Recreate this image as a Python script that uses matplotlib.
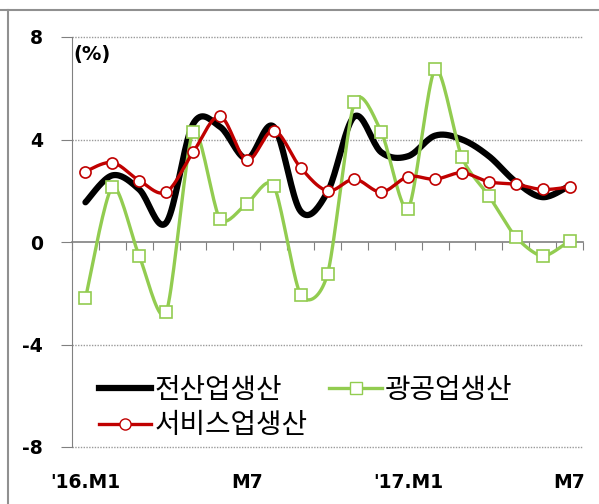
import numpy as np
import matplotlib
matplotlib.use("Agg")
import matplotlib.pyplot as plt
from matplotlib.lines import Line2D

plt.rcParams['font.family'] = ['DejaVu Sans', 'Noto Sans CJK KR']

# monthly growth rates, '16.M1 ~ '17.M7 (%)
months = ["'16.M1", "M2", "M3", "M4", "M5", "M6", "M7", "M8", "M9", "M10",
          "M11", "M12", "'17.M1", "M2", "M3", "M4", "M5", "M6", "M7"]
all_industry = [1.55, 2.6, 2.05, 0.75, 4.6, 4.5, 3.25, 4.5, 1.2, 1.95,
                4.9, 3.5, 3.35, 4.15, 4.0, 3.35, 2.35, 1.75, 2.2]
mining = [-2.2, 2.15, -0.55, -2.75, 4.3, 0.9, 1.5, 2.2, -2.05, -1.25,
          5.45, 4.3, 1.3, 6.75, 3.3, 1.8, 0.2, -0.55, 0.05]
services = [2.75, 3.1, 2.4, 1.95, 3.5, 4.9, 3.2, 4.35, 2.9, 2.0,
            2.45, 1.95, 2.55, 2.45, 2.7, 2.35, 2.25, 2.05, 2.15]
shown_labels = {0: "'16.M1", 6: "M7", 12: "'17.M1", 18: "M7"}
names = ["전산업생산", "광공업생산", "서비스업생산"]


# smoothed line through the points (Bezier segments, like spreadsheet smooth lines)
def smooth(y, k=1 / 6, n=20):
    y = np.asarray(y, dtype=float)
    x = np.arange(len(y), dtype=float)
    px = np.concatenate([[x[0]], x, [x[-1]]])
    py = np.concatenate([[y[0]], y, [y[-1]]])
    xs, ys = [], []
    t = np.linspace(0, 1, n, endpoint=False)
    for i in range(1, len(px) - 2):
        for p, out in ((px, xs), (py, ys)):
            p0, p1, p2, p3 = p[i - 1], p[i], p[i + 1], p[i + 2]
            c1 = p1 + (p2 - p0) * k
            c2 = p2 - (p3 - p1) * k
            out.append((1 - t) ** 3 * p1 + 3 * (1 - t) ** 2 * t * c1
                       + 3 * (1 - t) * t ** 2 * c2 + t ** 3 * p2)
    xs.append([x[-1]])
    ys.append([y[-1]])
    return np.concatenate(xs), np.concatenate(ys)


fig = plt.figure(figsize=(5.99, 5.04), dpi=100)
ax = fig.add_axes([72 / 599, 1 - 447 / 504, (583 - 72) / 599, (447 - 37) / 504])

x = np.arange(len(months))
black = "#000000"
green = "#92CC50"
red = "#C00000"

xs, ys = smooth(all_industry)
ax.plot(xs, ys, color=black, lw=4.5, solid_capstyle='round', zorder=3)
xs, ys = smooth(mining, k=0.13)
ax.plot(xs, ys, color=green, lw=2.4, zorder=4)
ax.plot(x, mining, ls='none', marker='s', ms=9, mfc='white', mec=green, mew=1.2, zorder=5)
xs, ys = smooth(services)
ax.plot(xs, ys, color=red, lw=2.4, zorder=6)
ax.plot(x, services, ls='none', marker='o', ms=8, mfc='white', mec=red, mew=1.2, zorder=7)

ax.set_xlim(-0.5, len(months) - 0.5)
ax.set_ylim(-8, 8)

# horizontal dotted grid, solid zero line
for v in [8, 4, -4, -8]:
    ax.axhline(v, color='#9a9a9a', lw=1.0, ls=(0, (1, 1)), zorder=1, clip_on=False)
for s in ['top', 'right']:
    ax.spines[s].set_visible(False)
ax.spines['left'].set_color('#808080')
ax.spines['bottom'].set_position(('data', 0))
ax.spines['bottom'].set_color('#808080')
ax.spines['bottom'].set_linewidth(1.2)

ax.set_yticks([-8, -4, 0, 4, 8])
ax.set_yticklabels(['-8', '-4', '0', '4', '8'], fontsize=13.5, fontweight='bold')
ax.tick_params(axis='y', length=8, color='#808080', pad=13)
ax.set_xticks(np.arange(-0.5, len(months)))
ax.set_xticklabels([])
ax.tick_params(axis='x', length=6, color='#808080', direction='out')

for i, lab in shown_labels.items():
    ax.text(i, -9.0, lab, ha='center', va='top', fontsize=13.5, fontweight='bold')

ax.text(-0.45, 7.3, "(%)", ha='left', va='center', fontsize=14, fontweight='bold')

handles = [
    Line2D([], [], color=black, lw=4.5),
    Line2D([], [], color=red, lw=2.4, marker='o', ms=8, mfc='white', mec=red),
    Line2D([], [], color=green, lw=2.4, marker='s', ms=9, mfc='white', mec=green),
]
leg = ax.legend(handles, [names[0], names[2], names[1]], ncol=2,
                loc='upper left', bbox_to_anchor=(0.025, 0.21), borderpad=0,
                frameon=False, handlelength=1.9, handletextpad=0.1,
                columnspacing=0.8, labelspacing=0.2,
                prop={'family': 'Noto Sans CJK KR', 'size': 20, 'weight': 'medium'})

# outer frame lines
fig.add_artist(Line2D([0, 1], [1 - 10 / 504] * 2, color='#909090', lw=1.5))
fig.add_artist(Line2D([8 / 599] * 2, [0, 1 - 10 / 504], color='#909090', lw=1.5))

fig.savefig("out.png", dpi=100)
